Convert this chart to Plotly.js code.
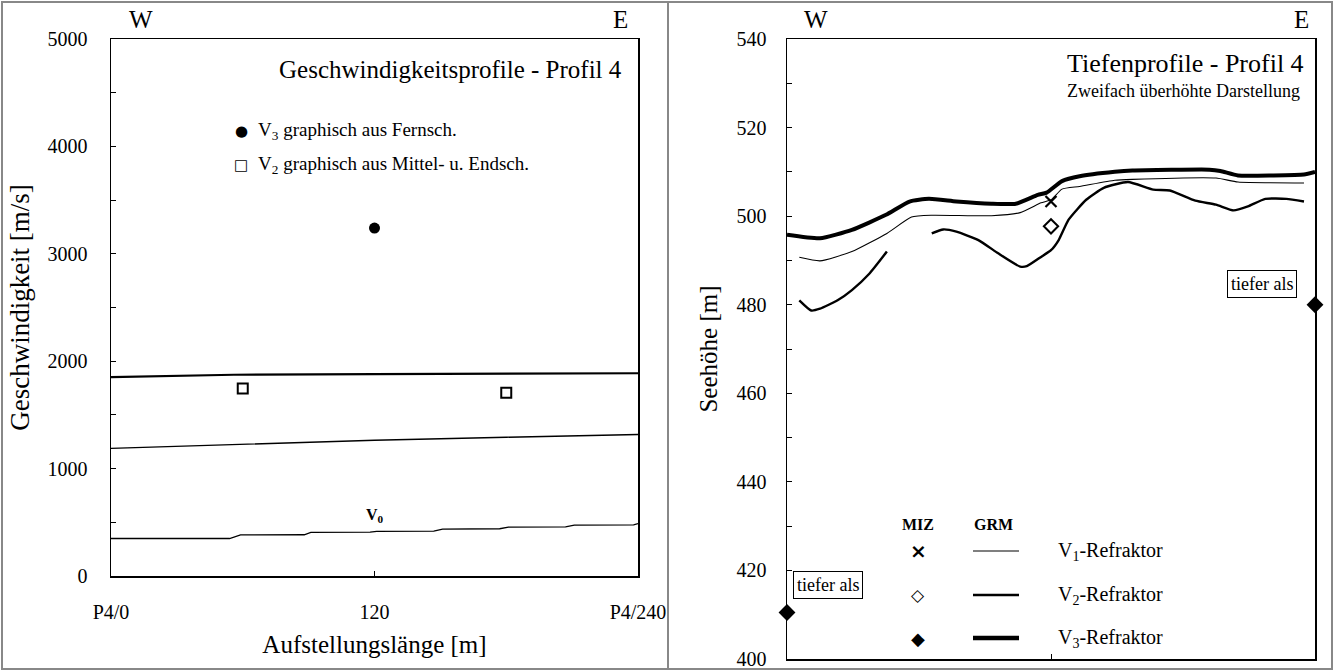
<!DOCTYPE html>
<html><head><meta charset="utf-8">
<script src="https://cdn.plot.ly/plotly-3.0.1.min.js"></script>
<style>html,body{margin:0;padding:0;background:#fff}</style>
</head><body><div id="chart" style="width:1336px;height:671px"></div>
<script>
// ---------- Left panel: Geschwindigkeitsprofile ----------
const xTickVals = [0, 120, 240];
const xTickText = ['P4/0', '120', 'P4/240'];
const leftYVals = [0, 1000, 2000, 3000, 4000, 5000];
const leftYText = ['0', '1000', '2000', '3000', '4000', '5000'];
const vTopX = [0, 56, 120, 200, 240];
const vTopY = [1852, 1874, 1880, 1881, 1888];
const vMidX = [0, 60, 120, 180, 240];
const vMidY = [1188, 1224, 1264, 1292, 1318];
const v0X = [0, 54, 59, 88, 91, 118, 121, 147, 151, 177, 181, 207, 211, 238, 240];
const v0Y = [349, 349, 382, 384, 406, 408, 416, 418, 437, 440, 456, 458, 474, 476, 488];
const v3PtX = [120];
const v3PtY = [3240];
const v2PtX = [60, 180];
const v2PtY = [1745, 1707];
const v0LabelX = 120, v0LabelY = 560;

// ---------- Right panel: Tiefenprofile ----------
const rightYVals = [400, 420, 440, 460, 480, 500, 520, 540];
const rightYText = ['400', '420', '440', '460', '480', '500', '520', '540'];
const r3X = [0, 15, 29.5, 45, 55.7, 64.5, 77, 93, 104, 114, 118, 125, 133, 149, 157, 192, 197, 205, 220.6, 235, 240];
const r3Y = [495.8, 495, 496.9, 500.3, 503.3, 503.9, 503.3, 502.8, 502.8, 504.8, 505.3, 507.9, 509, 510, 510.3, 510.5, 510.2, 509.2, 509.2, 509.4, 510];
const r1X = [5.6, 15, 29.5, 45.4, 56.6, 66, 93, 106, 115.5, 120, 125, 133, 149, 157, 195, 205, 235];
const r1Y = [490.7, 489.9, 492, 496.1, 499.8, 500.2, 500.1, 500.8, 503, 503.7, 506.1, 506.7, 508.1, 508.3, 508.6, 507.7, 507.5];
const r2aX = [5.6, 11, 15, 23, 29.5, 37.4, 45.4];
const r2aY = [481, 478.7, 479.1, 481, 483.3, 487, 492];
const r2bX = [65.8, 71, 77, 87, 96, 106, 109, 115.5, 120, 123.5, 128, 136, 144, 155, 166.5, 174, 185.6, 195, 203, 209.5, 217.4, 227, 235];
const r2bY = [496.1, 497, 496.5, 494.6, 491.6, 488.6, 488.7, 490.8, 492.3, 494.6, 499.2, 503.7, 506.4, 507.7, 506, 505.8, 503.5, 502.6, 501.3, 502.2, 503.9, 503.9, 503.3];
const mizX = [120];
const mizV1 = [503.3];
const mizV2 = [497.7];
const deepX = [0, 240];
const deepY = [410.5, 480];

const FONT = 'Liberation Serif, Times New Roman, serif';
const W = 1336, H = 671;
const X = px => px / W;
const Y = py => 1 - py / H;

const traces = [
  {x: vTopX, y: vTopY, xaxis: 'x', yaxis: 'y', mode: 'lines', line: {color: '#000', width: 2.2}},
  {x: vMidX, y: vMidY, xaxis: 'x', yaxis: 'y', mode: 'lines', line: {color: '#000', width: 1.4}},
  {x: v0X, y: v0Y, xaxis: 'x', yaxis: 'y', mode: 'lines', line: {color: '#000', width: 1.3}},
  {x: v3PtX, y: v3PtY, xaxis: 'x', yaxis: 'y', mode: 'markers', marker: {symbol: 'circle', size: 11, color: '#000'}},
  {x: v2PtX, y: v2PtY, xaxis: 'x', yaxis: 'y', mode: 'markers', marker: {symbol: 'square-open', size: 10, color: '#000', line: {width: 2, color: '#000'}}},
  {x: r3X, y: r3Y, xaxis: 'x2', yaxis: 'y2', mode: 'lines', line: {color: '#000', width: 4, shape: 'spline', smoothing: 0.5}},
  {x: r1X, y: r1Y, xaxis: 'x2', yaxis: 'y2', mode: 'lines', line: {color: '#000', width: 1.1, shape: 'spline', smoothing: 0.5}},
  {x: r2aX, y: r2aY, xaxis: 'x2', yaxis: 'y2', mode: 'lines', line: {color: '#000', width: 2.4, shape: 'spline', smoothing: 0.5}},
  {x: r2bX, y: r2bY, xaxis: 'x2', yaxis: 'y2', mode: 'lines', line: {color: '#000', width: 2.4, shape: 'spline', smoothing: 0.5}},
  {x: mizX, y: mizV1, xaxis: 'x2', yaxis: 'y2', mode: 'markers', marker: {symbol: 'x-thin', size: 11, color: '#000', line: {width: 2.2, color: '#000'}}},
  {x: mizX, y: mizV2, xaxis: 'x2', yaxis: 'y2', mode: 'markers', marker: {symbol: 'diamond-open', size: 11, color: '#000', line: {width: 2, color: '#000'}}},
  {x: deepX, y: deepY, xaxis: 'x2', yaxis: 'y2', mode: 'markers', cliponaxis: false, marker: {symbol: 'diamond', size: 13, color: '#000'}}
];

const axCommon = {
  showgrid: false, zeroline: false, showline: true, mirror: true,
  linecolor: '#000', linewidth: 1.5, ticks: 'inside', ticklen: 5, tickcolor: '#000', tickwidth: 1,
  tickfont: {family: FONT, size: 20, color: '#000'}, fixedrange: true
};

function ann(o) {
  return Object.assign({xref: 'paper', yref: 'paper', showarrow: false, xanchor: 'center', yanchor: 'middle'}, o);
}

const layout = {
  width: W, height: H, margin: {l: 0, r: 0, t: 0, b: 0},
  paper_bgcolor: '#fff', plot_bgcolor: '#fff', showlegend: false,
  font: {family: FONT, color: '#000'},
  xaxis: Object.assign({}, axCommon, {
    domain: [X(111), X(638)], range: [0, 240], anchor: 'y',
    tickmode: 'array', tickvals: xTickVals, ticktext: xTickText, ticklabelstandoff: 17,
    title: {text: 'Aufstellungslänge [m]', font: {family: FONT, size: 25}, standoff: 14}
  }),
  yaxis: Object.assign({}, axCommon, {
    domain: [Y(576), Y(39)], range: [0, 5000], anchor: 'x',
    tickmode: 'array', tickvals: leftYVals, ticktext: leftYText, ticklabelstandoff: 18,
    minor: {tickmode: 'linear', tick0: 0, dtick: 500, ticks: 'inside', ticklen: 5, tickcolor: '#000', showgrid: false},
    title: {text: 'Geschwindigkeit [m/s]', font: {family: FONT, size: 27}, standoff: 10}
  }),
  xaxis2: Object.assign({}, axCommon, {
    domain: [X(787), X(1315)], range: [0, 240], anchor: 'y2',
    tickmode: 'array', tickvals: [120], showticklabels: false
  }),
  yaxis2: Object.assign({}, axCommon, {
    domain: [Y(659), Y(39)], range: [400, 540], anchor: 'x2',
    tickmode: 'array', tickvals: rightYVals, ticktext: rightYText, ticklabelstandoff: 15,
    minor: {tickmode: 'linear', tick0: 400, dtick: 10, ticks: 'inside', ticklen: 5, tickcolor: '#000', showgrid: false},
    title: {text: 'Seehöhe [m]', font: {family: FONT, size: 25}, standoff: 12}
  }),
  shapes: [
    {type: 'rect', xref: 'paper', yref: 'paper', x0: X(2), x1: X(1332), y0: Y(669), y1: Y(2), line: {color: '#888', width: 2}},
    {type: 'line', xref: 'paper', yref: 'paper', x0: X(668), x1: X(668), y0: Y(669), y1: Y(2), line: {color: '#888', width: 2}},
    {type: 'line', xref: 'paper', yref: 'paper', x0: X(973), x1: X(1019), y0: Y(551), y1: Y(551), line: {color: '#000', width: 1.1}},
    {type: 'line', xref: 'paper', yref: 'paper', x0: X(973), x1: X(1019), y0: Y(595), y1: Y(595), line: {color: '#000', width: 2.4}},
    {type: 'line', xref: 'paper', yref: 'paper', x0: X(973), x1: X(1019), y0: Y(638), y1: Y(638), line: {color: '#000', width: 4.5}}
  ],
  annotations: [
    ann({x: X(141), y: Y(19), text: 'W', font: {size: 25}}),
    ann({x: X(620), y: Y(19), text: 'E', font: {size: 25}}),
    ann({x: X(816), y: Y(19), text: 'W', font: {size: 25}}),
    ann({x: X(1301), y: Y(19), text: 'E', font: {size: 25}}),
    ann({x: X(624), y: Y(69), xanchor: 'right', text: 'Geschwindigkeitsprofile - Profil 4', font: {size: 25}}),
    ann({x: X(1306), y: Y(64), xanchor: 'right', text: 'Tiefenprofile - Profil 4', font: {size: 26}}),
    ann({x: X(1302), y: Y(91), xanchor: 'right', text: 'Zweifach überhöhte Darstellung', font: {size: 18}}),
    ann({x: X(241), y: Y(131), text: '●', font: {family: 'DejaVu Sans', size: 15}}),
    ann({x: X(256), y: Y(131), xanchor: 'left', text: 'V<sub>3</sub> graphisch aus Fernsch.', font: {size: 19}}),
    ann({x: X(241), y: Y(165), text: '□', font: {family: 'DejaVu Sans', size: 15}}),
    ann({x: X(256), y: Y(165), xanchor: 'left', text: 'V<sub>2</sub> graphisch aus Mittel- u. Endsch.', font: {size: 19}}),
    {xref: 'x', yref: 'y', x: v0LabelX, y: v0LabelY, text: '<b>V<sub>0</sub></b>', showarrow: false, xanchor: 'center', yanchor: 'middle', font: {size: 16}},
    ann({x: X(1262), y: Y(284), text: 'tiefer als', font: {size: 18}, bordercolor: '#000', borderwidth: 1, borderpad: 3, bgcolor: '#fff'}),
    ann({x: X(828), y: Y(585), text: 'tiefer als', font: {size: 18}, bordercolor: '#000', borderwidth: 1, borderpad: 3, bgcolor: '#fff'}),
    ann({x: X(918), y: Y(524), text: '<b>MIZ</b>', font: {size: 16}}),
    ann({x: X(993), y: Y(524), text: '<b>GRM</b>', font: {size: 16}}),
    ann({x: X(918), y: Y(551), text: '<b>×</b>', font: {family: 'DejaVu Sans', size: 20}}),
    ann({x: X(918), y: Y(595), text: '<b>◇</b>', font: {family: 'DejaVu Sans', size: 17}}),
    ann({x: X(918), y: Y(638), text: '◆', font: {family: 'DejaVu Sans', size: 18}}),
    ann({x: X(1056), y: Y(551), xanchor: 'left', text: 'V<sub>1</sub>-Refraktor', font: {size: 20}}),
    ann({x: X(1056), y: Y(595), xanchor: 'left', text: 'V<sub>2</sub>-Refraktor', font: {size: 20}}),
    ann({x: X(1056), y: Y(638), xanchor: 'left', text: 'V<sub>3</sub>-Refraktor', font: {size: 20}})
  ]
};

Plotly.newPlot('chart', traces, layout, {displayModeBar: false, staticPlot: true});
</script>
</body></html>
